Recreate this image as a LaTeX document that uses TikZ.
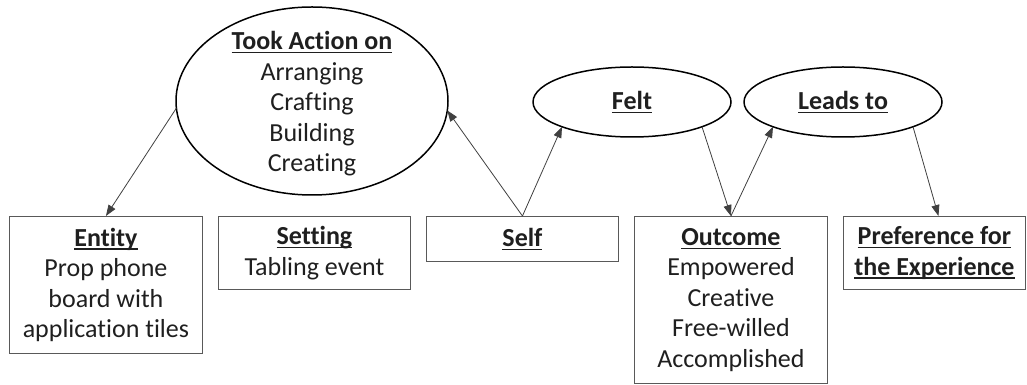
\documentclass[tikz,border=0pt]{standalone}
\usepackage{fontspec}
\setmainfont{Carlito}[Ligatures=NoCommon]
\usetikzlibrary{shapes.geometric,arrows.meta}
\newcommand\hdr[1]{\setbox0\hbox{\bfseries #1}\rlap{\rule[-3.5pt]{\wd0}{1.3pt}}\box0}
\begin{document}
\begin{tikzpicture}[x=1pt,y=1pt,
  txt/.style={align=center,text=black!88,font=\fontsize{26}{30.5}\selectfont,inner sep=0pt},
  boxnode/.style={draw=black!65,line width=0.9pt,rectangle,anchor=north west,inner sep=0pt,align=center,text=black!88,font=\fontsize{26}{30.5}\selectfont},
  ell/.style={draw=black,line width=1.5pt,ellipse,inner sep=0pt,outer sep=0pt},
  conn/.style={draw=black!75,line width=0.8pt,-{Triangle[length=11pt,width=8pt]}}]
\useasboundingbox (0,0) rectangle (1027,385);
% ellipses
\node[ell,minimum width=272,minimum height=188] (act) at (312,284) {};
\node[txt] (acttxt) at (312,281) {\hdr{Took Action on}\\Arranging\\Crafting\\Building\\Creating};
\node[ell,minimum width=198,minimum height=70] (felt) at (632,283) {};
\node[txt] (felttxt) at (632,283) {\hdr{Felt}};
\node[ell,minimum width=198,minimum height=70] (leads) at (843,283) {};
\node[txt] (leadstxt) at (843,283) {\hdr{Leads to}};
% boxes
\node[boxnode,minimum width=193,minimum height=137] (entity) at (9,169) {\hdr{Entity}\\Prop phone\\board with\\application tiles};
\node[boxnode,minimum width=192,minimum height=73] (setting) at (218,169) {\hdr{Setting}\\Tabling event};
\node[boxnode,minimum width=192,minimum height=45] (self) at (426,169) {\hdr{Self}};
\node[boxnode,minimum width=193,minimum height=167] (outcome) at (634,169) {\hdr{Outcome}\\Empowered\\Creative\\Free-willed\\Accomplished};
\node[boxnode,minimum width=182,minimum height=73] (pref) at (843,169) {\hdr{Preference for}\\\hdr{the Experience}};
% connectors
\draw[conn] (act.183) -- (entity.north);
\draw[conn] (self.north) -- (act.-4);
\draw[conn] (self.north) -- (felt.south west);
\draw[conn] (felt.south east) -- (outcome.north);
\draw[conn] (outcome.north) -- (leads.south west);
\draw[conn] (leads.south east) -- ([xshift=4pt]pref.north);
\end{tikzpicture}
\end{document}
